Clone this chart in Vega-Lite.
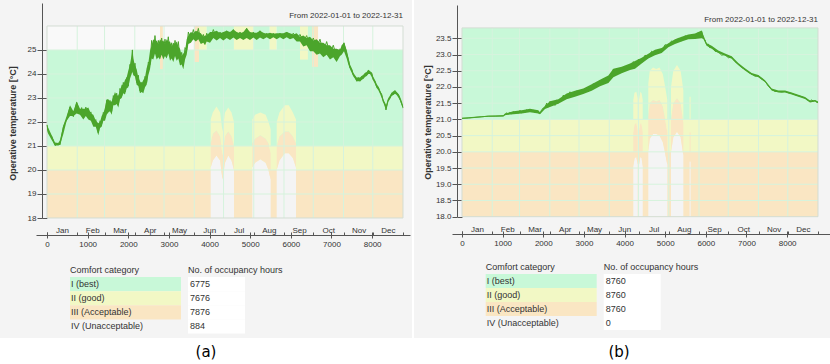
{
"$schema": "https://vega.github.io/schema/vega-lite/v6.json",
"background": "white",
"padding": 0,
"config": {
  "view": {"stroke": null},
  "font": "Liberation Sans",
  "axis": {"labelFont": "Liberation Sans", "labelFontSize": 8, "labelColor": "#333333", "domainColor": "#555555", "tickColor": "#555555", "titleFont": "Liberation Sans", "titleColor": "#333333", "grid": false, "labelFlush": false, "labelOverlap": false, "zindex": 1},
  "text": {"font": "Liberation Sans", "fontSize": 9, "color": "#333333"}
},
"datasets": {
  "months": [{"h":744},{"h":1416},{"h":2160},{"h":2880},{"h":3624},{"h":4344},{"h":5088},{"h":5832},{"h":6552},{"h":7296},{"h":8016}],
  "monthStarts": [{"d":"2022-01-01"}],
  "bandsA": [
    {"h0":0,"h1":8760,"lo":18,"hi":20,"cat":"III"},
    {"h0":0,"h1":8760,"lo":20,"hi":21,"cat":"II"},
    {"h0":0,"h1":8760,"lo":21,"hi":25,"cat":"I"},
    {"h0":0,"h1":8760,"lo":25,"hi":26,"cat":"top"},
    {"h0":2780,"h1":2850,"lo":24.2,"hi":26,"cat":"III"},
    {"h0":3620,"h1":3740,"lo":24.5,"hi":26,"cat":"III"},
    {"h0":3740,"h1":3930,"lo":25,"hi":26,"cat":"II"},
    {"h0":3930,"h1":4600,"lo":25,"hi":26,"cat":"I"},
    {"h0":4600,"h1":5080,"lo":25,"hi":26,"cat":"II"},
    {"h0":5080,"h1":5480,"lo":25,"hi":26,"cat":"I"},
    {"h0":5480,"h1":5650,"lo":25,"hi":26,"cat":"II"},
    {"h0":5650,"h1":6225,"lo":25,"hi":26,"cat":"I"},
    {"h0":6225,"h1":6420,"lo":24.6,"hi":26,"cat":"II"},
    {"h0":6420,"h1":6520,"lo":25,"hi":26,"cat":"I"},
    {"h0":6520,"h1":6670,"lo":24.3,"hi":26,"cat":"III"}
  ],
  "bandsB": [
    {"h0":0,"h1":8760,"lo":18,"hi":20,"cat":"III"},
    {"h0":0,"h1":8760,"lo":20,"hi":21,"cat":"II"},
    {"h0":0,"h1":8760,"lo":21,"hi":23.82,"cat":"I"}
  ],
  "humpsA": [
    {"seg":"A1","h":4028,"w":20.1,"o":21.1,"yl":22.1},
    {"seg":"A1","h":4080,"w":20.4,"o":21.5,"yl":22.4},
    {"seg":"A1","h":4170,"w":20.6,"o":21.65,"yl":22.65},
    {"seg":"A1","h":4260,"w":20.4,"o":21.4,"yl":22.4},
    {"seg":"A1","h":4318,"w":19.6,"o":20.6,"yl":21.6},
    {"seg":"A1","h":4380,"w":20.3,"o":21.4,"yl":22.4},
    {"seg":"A1","h":4460,"w":20.6,"o":21.6,"yl":22.6},
    {"seg":"A1","h":4540,"w":20.4,"o":21.4,"yl":22.4},
    {"seg":"A1","h":4601,"w":20.0,"o":21.0,"yl":22.0},
    {"seg":"A2","h":5052,"w":20.1,"o":21.1,"yl":22.1},
    {"seg":"A2","h":5120,"w":20.3,"o":21.3,"yl":22.3},
    {"seg":"A2","h":5250,"w":20.45,"o":21.45,"yl":22.4},
    {"seg":"A2","h":5380,"w":20.3,"o":21.3,"yl":22.3},
    {"seg":"A2","h":5450,"w":20.0,"o":21.1,"yl":22.0},
    {"seg":"A2","h":5504,"w":19.6,"o":20.7,"yl":21.7},
    {"seg":"A3","h":5652,"w":20.0,"o":21.0,"yl":22.0},
    {"seg":"A3","h":5720,"w":20.4,"o":21.4,"yl":22.4},
    {"seg":"A3","h":5850,"w":20.7,"o":21.6,"yl":22.7},
    {"seg":"A3","h":5950,"w":20.7,"o":21.6,"yl":22.7},
    {"seg":"A3","h":6050,"w":20.5,"o":21.4,"yl":22.4},
    {"seg":"A3","h":6127,"w":20.1,"o":21.1,"yl":22.1}
  ],
  "humpsB": [
    {"seg":"B1","h":4215,"w":19.55,"o":20.6,"yl":21.6},
    {"seg":"B1","h":4245,"w":19.8,"o":20.85,"yl":21.82},
    {"seg":"B1","h":4290,"w":19.85,"o":20.9,"yl":21.85},
    {"seg":"B1","h":4323,"w":19.6,"o":20.65,"yl":21.65},
    {"seg":"B2","h":4355,"w":19.6,"o":20.65,"yl":21.6},
    {"seg":"B2","h":4390,"w":19.85,"o":20.9,"yl":21.85},
    {"seg":"B2","h":4420,"w":19.8,"o":20.85,"yl":21.8},
    {"seg":"B2","h":4447,"w":19.55,"o":20.6,"yl":21.6},
    {"seg":"B3","h":4584,"w":20.0,"o":21.1,"yl":22.1},
    {"seg":"B3","h":4620,"w":20.4,"o":21.5,"yl":22.5},
    {"seg":"B3","h":4700,"w":20.55,"o":21.6,"yl":22.6},
    {"seg":"B3","h":4780,"w":20.55,"o":21.55,"yl":22.55},
    {"seg":"B3","h":4860,"w":20.5,"o":21.6,"yl":22.6},
    {"seg":"B3","h":4940,"w":20.3,"o":21.4,"yl":22.4},
    {"seg":"B3","h":5000,"w":19.95,"o":21.0,"yl":22.0},
    {"seg":"B3","h":5052,"w":19.6,"o":20.6,"yl":21.6},
    {"seg":"B4","h":5143,"w":20.0,"o":21.0,"yl":22.0},
    {"seg":"B4","h":5200,"w":20.45,"o":21.5,"yl":22.5},
    {"seg":"B4","h":5290,"w":20.62,"o":21.65,"yl":22.68},
    {"seg":"B4","h":5380,"w":20.45,"o":21.5,"yl":22.5},
    {"seg":"B4","h":5446,"w":19.9,"o":20.9,"yl":21.9},
    {"seg":"B5","h":5600,"w":19.7,"o":20.6,"yl":21.7},
    {"seg":"B5","h":5625,"w":19.7,"o":20.6,"yl":21.7}
  ],
  "envA": [
    {"h":0,"lo":21.7,"hi":21.9},{"h":33,"lo":21.5,"hi":21.75},{"h":115,"lo":21.25,"hi":21.45},{"h":197,"lo":21.02,"hi":21.15},{"h":279,"lo":21.02,"hi":21.12},{"h":320,"lo":21.05,"hi":21.25},{"h":402,"lo":21.5,"hi":21.85},{"h":484,"lo":22.05,"hi":22.25},{"h":566,"lo":22.25,"hi":22.7},{"h":648,"lo":22.25,"hi":22.45},{"h":730,"lo":22.35,"hi":22.85},{"h":812,"lo":22.3,"hi":22.55},{"h":894,"lo":22.1,"hi":22.55},{"h":955,"lo":22.25,"hi":22.55},{"h":1017,"lo":22.1,"hi":22.6},{"h":1080,"lo":22.05,"hi":22.35},{"h":1140,"lo":21.8,"hi":22.3},{"h":1200,"lo":21.8,"hi":22.05},{"h":1263,"lo":21.45,"hi":21.95},{"h":1304,"lo":21.75,"hi":22.0},{"h":1345,"lo":21.8,"hi":22.25},{"h":1386,"lo":22.05,"hi":22.35},{"h":1427,"lo":22.05,"hi":22.6},{"h":1468,"lo":22.3,"hi":22.95},{"h":1509,"lo":22.4,"hi":22.95},{"h":1550,"lo":22.45,"hi":22.85},{"h":1591,"lo":22.3,"hi":22.85},{"h":1632,"lo":22.7,"hi":23.05},{"h":1673,"lo":22.7,"hi":23.25},{"h":1714,"lo":22.75,"hi":23.1},{"h":1755,"lo":22.6,"hi":23.1},{"h":1796,"lo":22.95,"hi":23.3},{"h":1837,"lo":23.0,"hi":23.55},{"h":1878,"lo":23.2,"hi":23.55},{"h":1919,"lo":23.15,"hi":23.75},{"h":1960,"lo":23.4,"hi":23.85},{"h":2001,"lo":23.45,"hi":24.15},{"h":2042,"lo":23.8,"hi":24.4},{"h":2083,"lo":24.0,"hi":24.8},{"h":2100,"lo":24.1,"hi":25.05},{"h":2124,"lo":23.95,"hi":24.65},{"h":2165,"lo":23.9,"hi":24.35},{"h":2206,"lo":23.55,"hi":24.2},{"h":2247,"lo":23.5,"hi":23.85},{"h":2288,"lo":23.2,"hi":23.7},{"h":2329,"lo":23.25,"hi":23.6},{"h":2370,"lo":23.2,"hi":23.75},{"h":2411,"lo":23.45,"hi":23.85},{"h":2452,"lo":23.55,"hi":24.25},{"h":2493,"lo":23.95,"hi":24.45},{"h":2534,"lo":24.2,"hi":24.95},{"h":2575,"lo":24.65,"hi":25.2},{"h":2616,"lo":24.6,"hi":25.45},{"h":2657,"lo":24.85,"hi":25.35},{"h":2698,"lo":24.6,"hi":25.4},{"h":2739,"lo":24.7,"hi":25.25},{"h":2780,"lo":24.6,"hi":25.45},{"h":2821,"lo":24.8,"hi":25.35},{"h":2862,"lo":24.6,"hi":25.4},{"h":2903,"lo":24.75,"hi":25.25},{"h":2944,"lo":24.65,"hi":25.45},{"h":2985,"lo":24.85,"hi":25.35},{"h":3027,"lo":24.55,"hi":25.35},{"h":3068,"lo":24.65,"hi":25.15},{"h":3109,"lo":24.5,"hi":25.3},{"h":3150,"lo":24.75,"hi":25.25},{"h":3191,"lo":24.55,"hi":25.35},{"h":3232,"lo":24.65,"hi":25.15},{"h":3273,"lo":24.35,"hi":25.05},{"h":3314,"lo":24.4,"hi":24.75},{"h":3355,"lo":24.2,"hi":24.85},{"h":3396,"lo":24.6,"hi":24.95},{"h":3437,"lo":24.8,"hi":25.45},{"h":3478,"lo":25.25,"hi":25.6},{"h":3540,"lo":25.3,"hi":25.75},{"h":3601,"lo":25.45,"hi":25.7},{"h":3662,"lo":25.35,"hi":25.8},{"h":3724,"lo":25.45,"hi":25.75},{"h":3785,"lo":25.25,"hi":25.7},{"h":3847,"lo":25.3,"hi":25.55},{"h":3888,"lo":25.2,"hi":25.6},{"h":3929,"lo":25.35,"hi":25.6},{"h":4011,"lo":25.3,"hi":25.75},{"h":4093,"lo":25.5,"hi":25.75},{"h":4175,"lo":25.4,"hi":25.8},{"h":4257,"lo":25.5,"hi":25.7},{"h":4339,"lo":25.4,"hi":25.75},{"h":4421,"lo":25.5,"hi":25.8},{"h":4503,"lo":25.42,"hi":25.75},{"h":4585,"lo":25.52,"hi":25.85},{"h":4667,"lo":25.42,"hi":25.75},{"h":4749,"lo":25.5,"hi":25.7},{"h":4831,"lo":25.42,"hi":25.75},{"h":4913,"lo":25.5,"hi":25.92},{"h":4995,"lo":25.42,"hi":25.75},{"h":5077,"lo":25.52,"hi":25.72},{"h":5159,"lo":25.42,"hi":25.72},{"h":5241,"lo":25.52,"hi":25.8},{"h":5323,"lo":25.45,"hi":25.72},{"h":5405,"lo":25.53,"hi":25.68},{"h":5487,"lo":25.45,"hi":25.72},{"h":5569,"lo":25.53,"hi":25.68},{"h":5651,"lo":25.45,"hi":25.7},{"h":5733,"lo":25.53,"hi":25.7},{"h":5815,"lo":25.45,"hi":25.7},{"h":5897,"lo":25.53,"hi":25.75},{"h":5979,"lo":25.45,"hi":25.7},{"h":6061,"lo":25.5,"hi":25.65},{"h":6143,"lo":25.35,"hi":25.7},{"h":6225,"lo":25.35,"hi":25.55},{"h":6307,"lo":25.15,"hi":25.6},{"h":6389,"lo":25.2,"hi":25.5},{"h":6471,"lo":24.95,"hi":25.55},{"h":6553,"lo":24.95,"hi":25.4},{"h":6635,"lo":24.8,"hi":25.45},{"h":6717,"lo":24.85,"hi":25.3},{"h":6799,"lo":24.7,"hi":25.3},{"h":6881,"lo":24.8,"hi":25.2},{"h":6963,"lo":24.6,"hi":25.2},{"h":7045,"lo":24.7,"hi":25.05},{"h":7127,"lo":24.5,"hi":25.05},{"h":7210,"lo":24.75,"hi":25.0},{"h":7250,"lo":24.8,"hi":25.2},{"h":7308,"lo":24.95,"hi":25.3},{"h":7374,"lo":24.65,"hi":25.0},{"h":7415,"lo":24.4,"hi":24.7},{"h":7456,"lo":24.2,"hi":24.4},{"h":7497,"lo":24.05,"hi":24.25},{"h":7538,"lo":23.9,"hi":24.05},{"h":7579,"lo":23.8,"hi":23.95},{"h":7620,"lo":23.7,"hi":23.85},{"h":7661,"lo":23.7,"hi":23.85},{"h":7702,"lo":23.7,"hi":23.85},{"h":7743,"lo":23.75,"hi":23.92},{"h":7784,"lo":23.8,"hi":23.97},{"h":7825,"lo":23.88,"hi":24.05},{"h":7866,"lo":23.92,"hi":24.08},{"h":7907,"lo":24.0,"hi":24.18},{"h":7948,"lo":24.0,"hi":24.12},{"h":7989,"lo":23.88,"hi":24.05},{"h":8030,"lo":23.72,"hi":23.88},{"h":8071,"lo":23.58,"hi":23.75},{"h":8112,"lo":23.42,"hi":23.58},{"h":8153,"lo":23.32,"hi":23.48},{"h":8194,"lo":23.18,"hi":23.32},{"h":8235,"lo":23.0,"hi":23.18},{"h":8276,"lo":22.8,"hi":22.95},{"h":8317,"lo":22.62,"hi":22.8},{"h":8341,"lo":22.5,"hi":22.7},{"h":8399,"lo":22.85,"hi":23.0},{"h":8440,"lo":22.95,"hi":23.1},{"h":8481,"lo":23.08,"hi":23.22},{"h":8522,"lo":23.12,"hi":23.28},{"h":8563,"lo":23.18,"hi":23.32},{"h":8604,"lo":23.12,"hi":23.25},{"h":8645,"lo":23.02,"hi":23.18},{"h":8686,"lo":22.9,"hi":23.05},{"h":8727,"lo":22.72,"hi":22.88},{"h":8760,"lo":22.55,"hi":22.7}
  ],
  "envB": [
    {"h":0,"lo":21.02,"hi":21.05},{"h":320,"lo":21.05,"hi":21.08},{"h":648,"lo":21.08,"hi":21.11},{"h":1017,"lo":21.09,"hi":21.13},{"h":1058,"lo":21.13,"hi":21.18},{"h":1263,"lo":21.16,"hi":21.25},{"h":1468,"lo":21.18,"hi":21.28},{"h":1673,"lo":21.22,"hi":21.33},{"h":1878,"lo":21.18,"hi":21.28},{"h":1919,"lo":21.16,"hi":21.22},{"h":2042,"lo":21.32,"hi":21.42},{"h":2165,"lo":21.38,"hi":21.56},{"h":2370,"lo":21.48,"hi":21.62},{"h":2575,"lo":21.62,"hi":21.8},{"h":2780,"lo":21.7,"hi":21.88},{"h":2985,"lo":21.78,"hi":21.95},{"h":3191,"lo":21.88,"hi":22.08},{"h":3396,"lo":22.02,"hi":22.22},{"h":3601,"lo":22.12,"hi":22.35},{"h":3724,"lo":22.3,"hi":22.56},{"h":3929,"lo":22.42,"hi":22.62},{"h":4134,"lo":22.52,"hi":22.72},{"h":4257,"lo":22.56,"hi":22.8},{"h":4421,"lo":22.72,"hi":22.9},{"h":4585,"lo":22.88,"hi":23.02},{"h":4749,"lo":22.98,"hi":23.15},{"h":4913,"lo":23.05,"hi":23.2},{"h":5077,"lo":23.22,"hi":23.35},{"h":5241,"lo":23.32,"hi":23.47},{"h":5405,"lo":23.4,"hi":23.55},{"h":5569,"lo":23.47,"hi":23.62},{"h":5733,"lo":23.48,"hi":23.65},{"h":5897,"lo":23.5,"hi":23.74},{"h":5938,"lo":23.48,"hi":23.6},{"h":6020,"lo":23.27,"hi":23.35},{"h":6143,"lo":23.18,"hi":23.27},{"h":6307,"lo":23.05,"hi":23.12},{"h":6471,"lo":22.96,"hi":23.03},{"h":6635,"lo":22.87,"hi":22.95},{"h":6799,"lo":22.67,"hi":22.74},{"h":6963,"lo":22.51,"hi":22.58},{"h":7127,"lo":22.37,"hi":22.43},{"h":7291,"lo":22.3,"hi":22.37},{"h":7456,"lo":22.15,"hi":22.21},{"h":7620,"lo":21.89,"hi":21.95},{"h":7784,"lo":21.83,"hi":21.89},{"h":7948,"lo":21.83,"hi":21.89},{"h":8112,"lo":21.77,"hi":21.83},{"h":8276,"lo":21.7,"hi":21.76},{"h":8440,"lo":21.63,"hi":21.69},{"h":8563,"lo":21.52,"hi":21.58},{"h":8686,"lo":21.55,"hi":21.6},{"h":8760,"lo":21.5,"hi":21.55}
  ],
  "lineA": [
    {"h":0,"t":21.88},{"h":33,"t":21.55},{"h":115,"t":21.4},{"h":197,"t":21.02},{"h":279,"t":21.12},{"h":320,"t":21.05},{"h":402,"t":21.8},{"h":484,"t":22.1},{"h":566,"t":22.62},{"h":648,"t":22.22},{"h":730,"t":22.82},{"h":812,"t":22.36},{"h":853,"t":22.6},{"h":894,"t":22.22},{"h":955,"t":22.62},{"h":1017,"t":22.28},{"h":1080,"t":22.42},{"h":1140,"t":21.92},{"h":1200,"t":22.1},{"h":1263,"t":21.55},{"h":1304,"t":22.05},{"h":1345,"t":21.92},{"h":1386,"t":22.4},{"h":1427,"t":22.2},{"h":1468,"t":22.9},{"h":1509,"t":22.55},{"h":1550,"t":22.9},{"h":1591,"t":22.45},{"h":1632,"t":23.1},{"h":1673,"t":22.85},{"h":1714,"t":23.2},{"h":1755,"t":22.7},{"h":1796,"t":23.4},{"h":1837,"t":23.1},{"h":1878,"t":23.65},{"h":1919,"t":23.25},{"h":1960,"t":23.85},{"h":2001,"t":23.5},{"h":2042,"t":24.4},{"h":2083,"t":24.1},{"h":2100,"t":25.0},{"h":2124,"t":24.05},{"h":2165,"t":24.45},{"h":2206,"t":23.65},{"h":2247,"t":23.95},{"h":2288,"t":23.3},{"h":2329,"t":23.65},{"h":2370,"t":23.3},{"h":2411,"t":23.9},{"h":2452,"t":23.65},{"h":2493,"t":24.5},{"h":2534,"t":24.4},{"h":2575,"t":25.4},{"h":2616,"t":24.9},{"h":2657,"t":25.6},{"h":2698,"t":24.9},{"h":2739,"t":25.4},{"h":2780,"t":24.95},{"h":2821,"t":25.5},{"h":2862,"t":24.95},{"h":2903,"t":25.45},{"h":2944,"t":25.0},{"h":2985,"t":25.55},{"h":3027,"t":24.85},{"h":3068,"t":25.3},{"h":3109,"t":24.8},{"h":3150,"t":25.4},{"h":3191,"t":24.85},{"h":3232,"t":25.35},{"h":3273,"t":24.6},{"h":3314,"t":24.9},{"h":3355,"t":24.4},{"h":3396,"t":25.1},{"h":3437,"t":25.0},{"h":3478,"t":25.75},{"h":3540,"t":25.4},{"h":3601,"t":25.85},{"h":3662,"t":25.45},{"h":3724,"t":25.9},{"h":3785,"t":25.35},{"h":3847,"t":25.65},{"h":3888,"t":25.3},{"h":3929,"t":25.7},{"h":4011,"t":25.4},{"h":4093,"t":25.85},{"h":4175,"t":25.45},{"h":4257,"t":25.75},{"h":4339,"t":25.45},{"h":4421,"t":25.8},{"h":4503,"t":25.5},{"h":4585,"t":25.85},{"h":4667,"t":25.5},{"h":4749,"t":25.75},{"h":4831,"t":25.5},{"h":4913,"t":25.9},{"h":4995,"t":25.5},{"h":5077,"t":25.75},{"h":5159,"t":25.5},{"h":5241,"t":25.8},{"h":5323,"t":25.55},{"h":5405,"t":25.7},{"h":5487,"t":25.55},{"h":5569,"t":25.7},{"h":5651,"t":25.55},{"h":5733,"t":25.7},{"h":5815,"t":25.55},{"h":5897,"t":25.75},{"h":5979,"t":25.55},{"h":6061,"t":25.7},{"h":6143,"t":25.45},{"h":6225,"t":25.65},{"h":6307,"t":25.35},{"h":6389,"t":25.6},{"h":6471,"t":25.15},{"h":6553,"t":25.5},{"h":6635,"t":25.1},{"h":6717,"t":25.45},{"h":6799,"t":24.9},{"h":6881,"t":25.35},{"h":6963,"t":24.85},{"h":7045,"t":25.2},{"h":7127,"t":24.7},{"h":7210,"t":25.05},{"h":7250,"t":24.95},{"h":7308,"t":25.3},{"h":7374,"t":24.85},{"h":7415,"t":24.6},{"h":7456,"t":24.25},{"h":7497,"t":24.2},{"h":7538,"t":23.95},{"h":7579,"t":23.9},{"h":7620,"t":23.7},{"h":7661,"t":23.85},{"h":7702,"t":23.7},{"h":7743,"t":23.9},{"h":7784,"t":23.82},{"h":7825,"t":24.0},{"h":7866,"t":23.95},{"h":7907,"t":24.15},{"h":7948,"t":24.05},{"h":7989,"t":24.05},{"h":8030,"t":23.75},{"h":8071,"t":23.7},{"h":8112,"t":23.45},{"h":8153,"t":23.45},{"h":8194,"t":23.25},{"h":8235,"t":23.15},{"h":8276,"t":22.85},{"h":8317,"t":22.75},{"h":8341,"t":22.5},{"h":8399,"t":22.95},{"h":8440,"t":23.0},{"h":8481,"t":23.2},{"h":8522,"t":23.15},{"h":8563,"t":23.3},{"h":8604,"t":23.2},{"h":8645,"t":23.15},{"h":8686,"t":22.95},{"h":8727,"t":22.75},{"h":8760,"t":22.6}
  ],
  "lineB": [
    {"h":0,"t":21.03},{"h":160,"t":21.04},{"h":320,"t":21.06},{"h":480,"t":21.08},{"h":648,"t":21.1},{"h":820,"t":21.1},{"h":1017,"t":21.11},{"h":1058,"t":21.15},{"h":1100,"t":21.2},{"h":1140,"t":21.16},{"h":1180,"t":21.22},{"h":1222,"t":21.17},{"h":1263,"t":21.24},{"h":1304,"t":21.18},{"h":1345,"t":21.22},{"h":1386,"t":21.19},{"h":1427,"t":21.28},{"h":1468,"t":21.2},{"h":1509,"t":21.25},{"h":1550,"t":21.21},{"h":1591,"t":21.3},{"h":1632,"t":21.24},{"h":1673,"t":21.32},{"h":1714,"t":21.26},{"h":1755,"t":21.28},{"h":1796,"t":21.22},{"h":1837,"t":21.28},{"h":1878,"t":21.2},{"h":1919,"t":21.18},{"h":1960,"t":21.3},{"h":2001,"t":21.35},{"h":2042,"t":21.36},{"h":2083,"t":21.5},{"h":2124,"t":21.38},{"h":2165,"t":21.55},{"h":2206,"t":21.42},{"h":2247,"t":21.5},{"h":2288,"t":21.43},{"h":2329,"t":21.6},{"h":2370,"t":21.5},{"h":2411,"t":21.62},{"h":2452,"t":21.58},{"h":2493,"t":21.75},{"h":2534,"t":21.65},{"h":2575,"t":21.78},{"h":2616,"t":21.7},{"h":2657,"t":21.85},{"h":2698,"t":21.72},{"h":2739,"t":21.82},{"h":2780,"t":21.74},{"h":2821,"t":21.88},{"h":2862,"t":21.76},{"h":2903,"t":21.85},{"h":2944,"t":21.8},{"h":2985,"t":21.92},{"h":3027,"t":21.82},{"h":3068,"t":21.98},{"h":3109,"t":21.85},{"h":3150,"t":22.0},{"h":3191,"t":21.92},{"h":3232,"t":22.1},{"h":3273,"t":21.98},{"h":3314,"t":22.15},{"h":3355,"t":22.05},{"h":3396,"t":22.2},{"h":3437,"t":22.08},{"h":3478,"t":22.25},{"h":3519,"t":22.12},{"h":3560,"t":22.28},{"h":3601,"t":22.15},{"h":3642,"t":22.35},{"h":3683,"t":22.3},{"h":3724,"t":22.55},{"h":3765,"t":22.4},{"h":3806,"t":22.5},{"h":3847,"t":22.42},{"h":3888,"t":22.55},{"h":3929,"t":22.45},{"h":3970,"t":22.6},{"h":4011,"t":22.5},{"h":4052,"t":22.65},{"h":4093,"t":22.55},{"h":4134,"t":22.68},{"h":4175,"t":22.58},{"h":4216,"t":22.78},{"h":4257,"t":22.6},{"h":4339,"t":22.85},{"h":4421,"t":22.75},{"h":4503,"t":22.98},{"h":4585,"t":22.92},{"h":4667,"t":23.1},{"h":4749,"t":23.0},{"h":4831,"t":23.15},{"h":4913,"t":23.08},{"h":4995,"t":23.3},{"h":5077,"t":23.28},{"h":5159,"t":23.42},{"h":5241,"t":23.35},{"h":5323,"t":23.5},{"h":5405,"t":23.42},{"h":5487,"t":23.58},{"h":5569,"t":23.5},{"h":5651,"t":23.62},{"h":5733,"t":23.5},{"h":5815,"t":23.68},{"h":5856,"t":23.55},{"h":5897,"t":23.72},{"h":5938,"t":23.5},{"h":5979,"t":23.45},{"h":6020,"t":23.3},{"h":6061,"t":23.32},{"h":6102,"t":23.2},{"h":6143,"t":23.24},{"h":6225,"t":23.1},{"h":6307,"t":23.08},{"h":6389,"t":22.98},{"h":6471,"t":23.0},{"h":6553,"t":22.9},{"h":6635,"t":22.92},{"h":6717,"t":22.78},{"h":6799,"t":22.7},{"h":6881,"t":22.6},{"h":6963,"t":22.55},{"h":7045,"t":22.45},{"h":7127,"t":22.4},{"h":7210,"t":22.33},{"h":7291,"t":22.34},{"h":7374,"t":22.24},{"h":7456,"t":22.18},{"h":7538,"t":22.02},{"h":7620,"t":21.92},{"h":7702,"t":21.86},{"h":7784,"t":21.86},{"h":7866,"t":21.84},{"h":7948,"t":21.86},{"h":8030,"t":21.82},{"h":8112,"t":21.8},{"h":8194,"t":21.76},{"h":8276,"t":21.73},{"h":8358,"t":21.7},{"h":8440,"t":21.66},{"h":8501,"t":21.6},{"h":8563,"t":21.55},{"h":8604,"t":21.6},{"h":8645,"t":21.56},{"h":8686,"t":21.58},{"h":8727,"t":21.53},{"h":8760,"t":21.52}
  ],
  "tableA": [
    {"row":"I (best)","cat":"I","hours":"6775"},
    {"row":"II (good)","cat":"II","hours":"7676"},
    {"row":"III (Acceptable)","cat":"III","hours":"7876"},
    {"row":"IV (Unacceptable)","cat":"IV","hours":"884"}
  ],
  "tableB": [
    {"row":"I (best)","cat":"I","hours":"8760"},
    {"row":"II (good)","cat":"II","hours":"8760"},
    {"row":"III (Acceptable)","cat":"III","hours":"8760"},
    {"row":"IV (Unacceptable)","cat":"IV","hours":"0"}
  ],
  "headers": [{"col":"Comfort category"},{"col":"No. of occupancy hours"}]
},
"concat": [
{
 "width": 412, "height": 338,
 "view": {"fill": "#f4f4f4", "stroke": null},
 "resolve": {"scale": {"x": "independent", "y": "independent"}, "axis": {"x": "independent", "y": "independent"}},
 "layer": [
  {
   "layer": [
    {"data": {"name": "bandsA"}, "mark": {"type": "rect"},
     "encoding": {
      "x": {"field": "h0", "type": "quantitative", "scale": {"domain": [-270.7, 8932], "range": [36, 410], "nice": false, "zero": false}, "axis": null},
      "x2": {"field": "h1"},
      "y": {"field": "lo", "type": "quantitative", "scale": {"domain": [18, 26.958], "range": [218, 3], "nice": false, "zero": false}, "axis": null},
      "y2": {"field": "hi"},
      "color": {"field": "cat", "type": "nominal", "scale": {"domain": ["I","II","III","top"], "range": ["#c8f8d8","#f2f8c5","#fae6c3","#f9f9f9"]}, "legend": null}
     }},
    {"data": {"name": "humpsA"}, "mark": {"type": "area", "fill": "#f4f4f4"},
     "encoding": {"x": {"field": "h", "type": "quantitative", "axis": null}, "y": {"field": "w", "type": "quantitative", "axis": null}, "y2": {"datum": 18}, "detail": {"field": "seg"}}},
    {"data": {"name": "humpsA"}, "mark": {"type": "area", "fill": "#fae6c3"},
     "encoding": {"x": {"field": "h", "type": "quantitative", "axis": null}, "y": {"field": "o", "type": "quantitative", "axis": null}, "y2": {"field": "w"}, "detail": {"field": "seg"}}},
    {"data": {"name": "humpsA"}, "mark": {"type": "area", "fill": "#f2f8c5"},
     "encoding": {"x": {"field": "h", "type": "quantitative", "axis": null}, "y": {"field": "yl", "type": "quantitative", "axis": null}, "y2": {"field": "o"}, "detail": {"field": "seg"}}},
    {"data": {"name": "months"}, "mark": {"type": "rule", "color": "#d6f3dd", "strokeWidth": 1},
     "encoding": {"x": {"field": "h", "type": "quantitative", "axis": null}, "y": {"datum": 18, "axis": null}, "y2": {"datum": 26}}},
    {"data": {"values": [{"t":19},{"t":20},{"t":21},{"t":22},{"t":23},{"t":24},{"t":25}]}, "mark": {"type": "rule", "color": "#d6f3dd", "strokeWidth": 1},
     "encoding": {"y": {"field": "t", "type": "quantitative", "axis": null}, "x": {"datum": 0, "axis": null}, "x2": {"datum": 8760}}},
    {"data": {"values": [{}]}, "mark": {"type": "rect", "fillOpacity": 0, "stroke": "#d3ddd3", "strokeWidth": 1},
     "encoding": {"x": {"datum": 0, "axis": null}, "x2": {"datum": 8760}, "y": {"datum": 18, "axis": null}, "y2": {"datum": 26}}},
    {"data": {"name": "envA"}, "mark": {"type": "area", "color": "#4ba52b"},
     "encoding": {"x": {"field": "h", "type": "quantitative", "axis": null}, "y": {"field": "lo", "type": "quantitative", "axis": null}, "y2": {"field": "hi"}}},
    {"data": {"name": "lineA"}, "mark": {"type": "line", "color": "#4ba52b", "strokeWidth": 1},
     "encoding": {"x": {"field": "h", "type": "quantitative", "axis": null}, "y": {"field": "t", "type": "quantitative", "axis": null}}},
    {"data": {"values": [{"label": "From 2022-01-01 to 2022-12-31"}]}, "mark": {"type": "text", "align": "right", "baseline": "middle", "fontSize": 8},
     "encoding": {"x": {"datum": 8760, "axis": null}, "y": {"datum": 26.42, "axis": null}, "text": {"field": "label"}}}
   ]
  },
  {"data": {"values": [{"h": 0, "t": 18}]}, "mark": {"type": "point", "opacity": 0},
   "encoding": {
     "x": {"field": "h", "type": "quantitative", "scale": {"domain": [-270.7, 8932], "range": [36, 410], "nice": false, "zero": false},
           "axis": {"orient": "bottom", "offset": -106, "values": [0,1000,2000,3000,4000,5000,6000,7000,8000], "format": "d", "tickSize": 6, "labelPadding": 2, "domain": false, "title": null}},
     "y": {"field": "t", "type": "quantitative", "scale": {"domain": [18, 26.958], "range": [218, 3], "nice": false, "zero": false},
           "axis": {"orient": "left", "offset": -42, "values": [18,19,20,21,22,23,24,25], "format": "d", "tickSize": 5, "labelPadding": 1, "title": "Operative temperature [°C]", "titleFontSize": 9, "titleFontWeight": "bold", "titleX": -25, "titleY": 123, "titleAngle": -90}}}},
  {"data": {"values": [{"h": 0, "t": 18}]}, "mark": {"type": "point", "opacity": 0},
   "encoding": {
     "y": {"field": "t", "type": "quantitative", "scale": {"domain": [18, 26.958], "range": [218, 3], "nice": false, "zero": false},
           "axis": {"orient": "right", "offset": -370, "values": [18,19,20,21,22,23,24,25], "tickSize": 5, "labels": false, "domain": false, "title": null}}}},
  {"data": {"name": "monthStarts"}, "mark": {"type": "point", "opacity": 0},
   "encoding": {"x": {"field": "d", "type": "temporal",
     "scale": {"type": "utc", "domain": [{"year":2021,"month":12,"date":20,"hours":17,"minutes":18,"utc":true},{"year":2023,"month":1,"date":8,"hours":4,"utc":true}], "range": [36, 410], "nice": false},
     "axis": {"orient": "top", "offset": -235, "values": [{"year":2022,"month":1,"date":1,"utc":true},{"year":2022,"month":2,"date":1,"utc":true},{"year":2022,"month":3,"date":1,"utc":true},{"year":2022,"month":4,"date":1,"utc":true},{"year":2022,"month":5,"date":1,"utc":true},{"year":2022,"month":6,"date":1,"utc":true},{"year":2022,"month":7,"date":1,"utc":true},{"year":2022,"month":8,"date":1,"utc":true},{"year":2022,"month":9,"date":1,"utc":true},{"year":2022,"month":10,"date":1,"utc":true},{"year":2022,"month":11,"date":1,"utc":true},{"year":2022,"month":12,"date":1,"utc":true},{"year":2023,"month":1,"date":1,"utc":true}],
       "tickSize": 3, "labelOffset": 15, "labelPadding": -0.5, "labelBaseline": "alphabetic", "domain": true, "title": null,
       "labelExpr": "utcyear(datum.value) > 2022 ? 'Ja' : utcFormat(datum.value, '%b')"}}}},
  {
   "layer": [
    {"data": {"name": "tableA"}, "transform": [{"filter": "datum.cat != 'IV'"}], "mark": {"type": "rect"},
     "encoding": {
      "x": {"datum": "Comfort category", "type": "nominal", "scale": {"type": "band", "domain": ["Comfort category", "No. of occupancy hours"], "range": [70, 299], "paddingInner": 0.0593, "paddingOuter": 0}, "axis": null},
      "y": {"field": "row", "type": "nominal", "scale": {"type": "band", "domain": ["header","I (best)","II (good)","III (Acceptable)","IV (Unacceptable)"], "range": [263, 333.5], "paddingInner": 0, "paddingOuter": 0}, "axis": null},
      "color": {"field": "cat", "type": "nominal", "legend": null}}},
    {"data": {"name": "tableA"}, "mark": {"type": "rect", "color": "white"},
     "encoding": {
      "x": {"datum": "No. of occupancy hours", "type": "nominal", "bandPosition": 0, "axis": null},
      "x2": {"datum": "No. of occupancy hours", "bandPosition": 0.514},
      "y": {"field": "row", "type": "nominal", "axis": null}}},
    {"data": {"name": "tableA"}, "mark": {"type": "text", "align": "left", "baseline": "middle", "dx": 1, "fontSize": 9},
     "encoding": {"x": {"datum": "Comfort category", "type": "nominal", "bandPosition": 0, "axis": null}, "y": {"field": "row", "type": "nominal", "axis": null}, "text": {"field": "row"}}},
    {"data": {"name": "tableA"}, "mark": {"type": "text", "align": "left", "baseline": "middle", "dx": 2, "fontSize": 9},
     "encoding": {"x": {"datum": "No. of occupancy hours", "type": "nominal", "bandPosition": 0, "axis": null}, "y": {"field": "row", "type": "nominal", "axis": null}, "text": {"field": "hours"}}},
    {"data": {"name": "headers"}, "mark": {"type": "text", "align": "left", "baseline": "middle", "dx": 0, "fontSize": 9},
     "encoding": {"x": {"field": "col", "type": "nominal", "bandPosition": 0, "axis": null}, "y": {"datum": "header", "type": "nominal", "axis": null}, "text": {"field": "col"}}}
   ]
  }
 ]
},
{
 "width": 416, "height": 338,
 "view": {"fill": "#f4f4f4", "stroke": null},
 "resolve": {"scale": {"x": "independent", "y": "independent"}, "axis": {"x": "independent", "y": "independent"}},
 "layer": [
  {
   "layer": [
    {"data": {"name": "bandsB"}, "mark": {"type": "rect"},
     "encoding": {
      "x": {"field": "h0", "type": "quantitative", "scale": {"domain": [-246, 9055], "range": [38, 416], "nice": false, "zero": false}, "axis": null},
      "x2": {"field": "h1"},
      "y": {"field": "lo", "type": "quantitative", "scale": {"domain": [18, 24.526], "range": [216.7, 5], "nice": false, "zero": false}, "axis": null},
      "y2": {"field": "hi"},
      "color": {"field": "cat", "type": "nominal", "scale": {"domain": ["I","II","III","top"], "range": ["#c8f8d8","#f2f8c5","#fae6c3","#f9f9f9"]}, "legend": null}
     }},
    {"data": {"name": "humpsB"}, "mark": {"type": "area", "fill": "#f4f4f4"},
     "encoding": {"x": {"field": "h", "type": "quantitative", "axis": null}, "y": {"field": "w", "type": "quantitative", "axis": null}, "y2": {"datum": 18}, "detail": {"field": "seg"}}},
    {"data": {"name": "humpsB"}, "mark": {"type": "area", "fill": "#fae6c3"},
     "encoding": {"x": {"field": "h", "type": "quantitative", "axis": null}, "y": {"field": "o", "type": "quantitative", "axis": null}, "y2": {"field": "w"}, "detail": {"field": "seg"}}},
    {"data": {"name": "humpsB"}, "mark": {"type": "area", "fill": "#f2f8c5"},
     "encoding": {"x": {"field": "h", "type": "quantitative", "axis": null}, "y": {"field": "yl", "type": "quantitative", "axis": null}, "y2": {"field": "o"}, "detail": {"field": "seg"}}},
    {"data": {"name": "months"}, "mark": {"type": "rule", "color": "#d6f3dd", "strokeWidth": 1},
     "encoding": {"x": {"field": "h", "type": "quantitative", "axis": null}, "y": {"datum": 18, "axis": null}, "y2": {"datum": 23.82}}},
    {"data": {"values": [{"t":18.5},{"t":19},{"t":19.5},{"t":20},{"t":20.5},{"t":21},{"t":21.5},{"t":22},{"t":22.5},{"t":23},{"t":23.5}]}, "mark": {"type": "rule", "color": "#d6f3dd", "strokeWidth": 1},
     "encoding": {"y": {"field": "t", "type": "quantitative", "axis": null}, "x": {"datum": 0, "axis": null}, "x2": {"datum": 8760}}},
    {"data": {"values": [{}]}, "mark": {"type": "rect", "fillOpacity": 0, "stroke": "#d3ddd3", "strokeWidth": 1},
     "encoding": {"x": {"datum": 0, "axis": null}, "x2": {"datum": 8760}, "y": {"datum": 18, "axis": null}, "y2": {"datum": 23.82}}},
    {"data": {"name": "envB"}, "mark": {"type": "area", "color": "#4ba52b"},
     "encoding": {"x": {"field": "h", "type": "quantitative", "axis": null}, "y": {"field": "lo", "type": "quantitative", "axis": null}, "y2": {"field": "hi"}}},
    {"data": {"name": "lineB"}, "mark": {"type": "line", "color": "#4ba52b", "strokeWidth": 1},
     "encoding": {"x": {"field": "h", "type": "quantitative", "axis": null}, "y": {"field": "t", "type": "quantitative", "axis": null}}},
    {"data": {"values": [{"label": "From 2022-01-01 to 2022-12-31"}]}, "mark": {"type": "text", "align": "right", "baseline": "middle", "fontSize": 8},
     "encoding": {"x": {"datum": 8760, "axis": null}, "y": {"datum": 24.06, "axis": null}, "text": {"field": "label"}}}
   ]
  },
  {"data": {"values": [{"h": 0, "t": 18}]}, "mark": {"type": "point", "opacity": 0},
   "encoding": {
     "x": {"field": "h", "type": "quantitative", "scale": {"domain": [-246, 9055], "range": [38, 416], "nice": false, "zero": false},
           "axis": {"orient": "bottom", "offset": -107, "values": [0,1000,2000,3000,4000,5000,6000,7000,8000], "format": "d", "tickSize": 6, "labelPadding": 2, "domain": false, "title": null}},
     "y": {"field": "t", "type": "quantitative", "scale": {"domain": [18, 24.526], "range": [216.7, 5], "nice": false, "zero": false},
           "axis": {"orient": "left", "offset": -43, "values": [18,18.5,19,19.5,20,20.5,21,21.5,22,22.5,23,23.5], "format": ".1f", "tickSize": 5, "labelPadding": 1, "title": "Operative temperature [°C]", "titleFontSize": 9, "titleFontWeight": "bold", "titleX": -25, "titleY": 122, "titleAngle": -90}}}},
  {"data": {"values": [{"h": 0, "t": 18}]}, "mark": {"type": "point", "opacity": 0},
   "encoding": {
     "y": {"field": "t", "type": "quantitative", "scale": {"domain": [18, 24.526], "range": [216.7, 5], "nice": false, "zero": false},
           "axis": {"orient": "right", "offset": -373, "values": [18,18.5,19,19.5,20,20.5,21,21.5,22,22.5,23,23.5], "tickSize": 5, "labels": false, "domain": false, "title": null}}}},
  {"data": {"name": "monthStarts"}, "mark": {"type": "point", "opacity": 0},
   "encoding": {"x": {"field": "d", "type": "temporal",
     "scale": {"type": "utc", "domain": [{"year":2021,"month":12,"date":21,"hours":18,"utc":true},{"year":2023,"month":1,"date":13,"hours":7,"utc":true}], "range": [38, 416], "nice": false},
     "axis": {"orient": "top", "offset": -234, "values": [{"year":2022,"month":1,"date":1,"utc":true},{"year":2022,"month":2,"date":1,"utc":true},{"year":2022,"month":3,"date":1,"utc":true},{"year":2022,"month":4,"date":1,"utc":true},{"year":2022,"month":5,"date":1,"utc":true},{"year":2022,"month":6,"date":1,"utc":true},{"year":2022,"month":7,"date":1,"utc":true},{"year":2022,"month":8,"date":1,"utc":true},{"year":2022,"month":9,"date":1,"utc":true},{"year":2022,"month":10,"date":1,"utc":true},{"year":2022,"month":11,"date":1,"utc":true},{"year":2022,"month":12,"date":1,"utc":true},{"year":2023,"month":1,"date":1,"utc":true}],
       "tickSize": 3, "labelOffset": 15, "labelPadding": -0.5, "labelBaseline": "alphabetic", "domain": true, "title": null,
       "labelExpr": "utcyear(datum.value) > 2022 ? '' : utcFormat(datum.value, '%b')"}}}},
  {
   "layer": [
    {"data": {"name": "tableB"}, "transform": [{"filter": "datum.cat != 'IV'"}], "mark": {"type": "rect"},
     "encoding": {
      "x": {"datum": "Comfort category", "type": "nominal", "scale": {"type": "band", "domain": ["Comfort category", "No. of occupancy hours"], "range": [71.7, 300.7], "paddingInner": 0.0593, "paddingOuter": 0}, "axis": null},
      "y": {"field": "row", "type": "nominal", "scale": {"type": "band", "domain": ["header","I (best)","II (good)","III (Acceptable)","IV (Unacceptable)"], "range": [260, 330], "paddingInner": 0, "paddingOuter": 0}, "axis": null},
      "color": {"field": "cat", "type": "nominal", "legend": null}}},
    {"data": {"name": "tableB"}, "mark": {"type": "rect", "color": "white"},
     "encoding": {
      "x": {"datum": "No. of occupancy hours", "type": "nominal", "bandPosition": 0, "axis": null},
      "x2": {"datum": "No. of occupancy hours", "bandPosition": 0.514},
      "y": {"field": "row", "type": "nominal", "axis": null}}},
    {"data": {"name": "tableB"}, "mark": {"type": "text", "align": "left", "baseline": "middle", "dx": 1, "fontSize": 9},
     "encoding": {"x": {"datum": "Comfort category", "type": "nominal", "bandPosition": 0, "axis": null}, "y": {"field": "row", "type": "nominal", "axis": null}, "text": {"field": "row"}}},
    {"data": {"name": "tableB"}, "mark": {"type": "text", "align": "left", "baseline": "middle", "dx": 2, "fontSize": 9},
     "encoding": {"x": {"datum": "No. of occupancy hours", "type": "nominal", "bandPosition": 0, "axis": null}, "y": {"field": "row", "type": "nominal", "axis": null}, "text": {"field": "hours"}}},
    {"data": {"name": "headers"}, "mark": {"type": "text", "align": "left", "baseline": "middle", "dx": 0, "fontSize": 9},
     "encoding": {"x": {"field": "col", "type": "nominal", "bandPosition": 0, "axis": null}, "y": {"datum": "header", "type": "nominal", "axis": null}, "text": {"field": "col"}}}
   ]
  }
 ]
},
{
 "width": 412, "height": 26,
 "data": {"values": [{"p": "(a)"}]},
 "mark": {"type": "text", "font": "DejaVu Sans", "fontSize": 15, "color": "black", "baseline": "middle", "dy": 1},
 "encoding": {"text": {"field": "p"}}
},
{
 "width": 416, "height": 26,
 "data": {"values": [{"p": "(b)"}]},
 "mark": {"type": "text", "font": "DejaVu Sans", "fontSize": 15, "color": "black", "baseline": "middle", "dy": 1, "dx": -3},
 "encoding": {"text": {"field": "p"}}
}
],
"columns": 2,
"spacing": {"row": 0, "column": 2},
"bounds": "flush"
}
